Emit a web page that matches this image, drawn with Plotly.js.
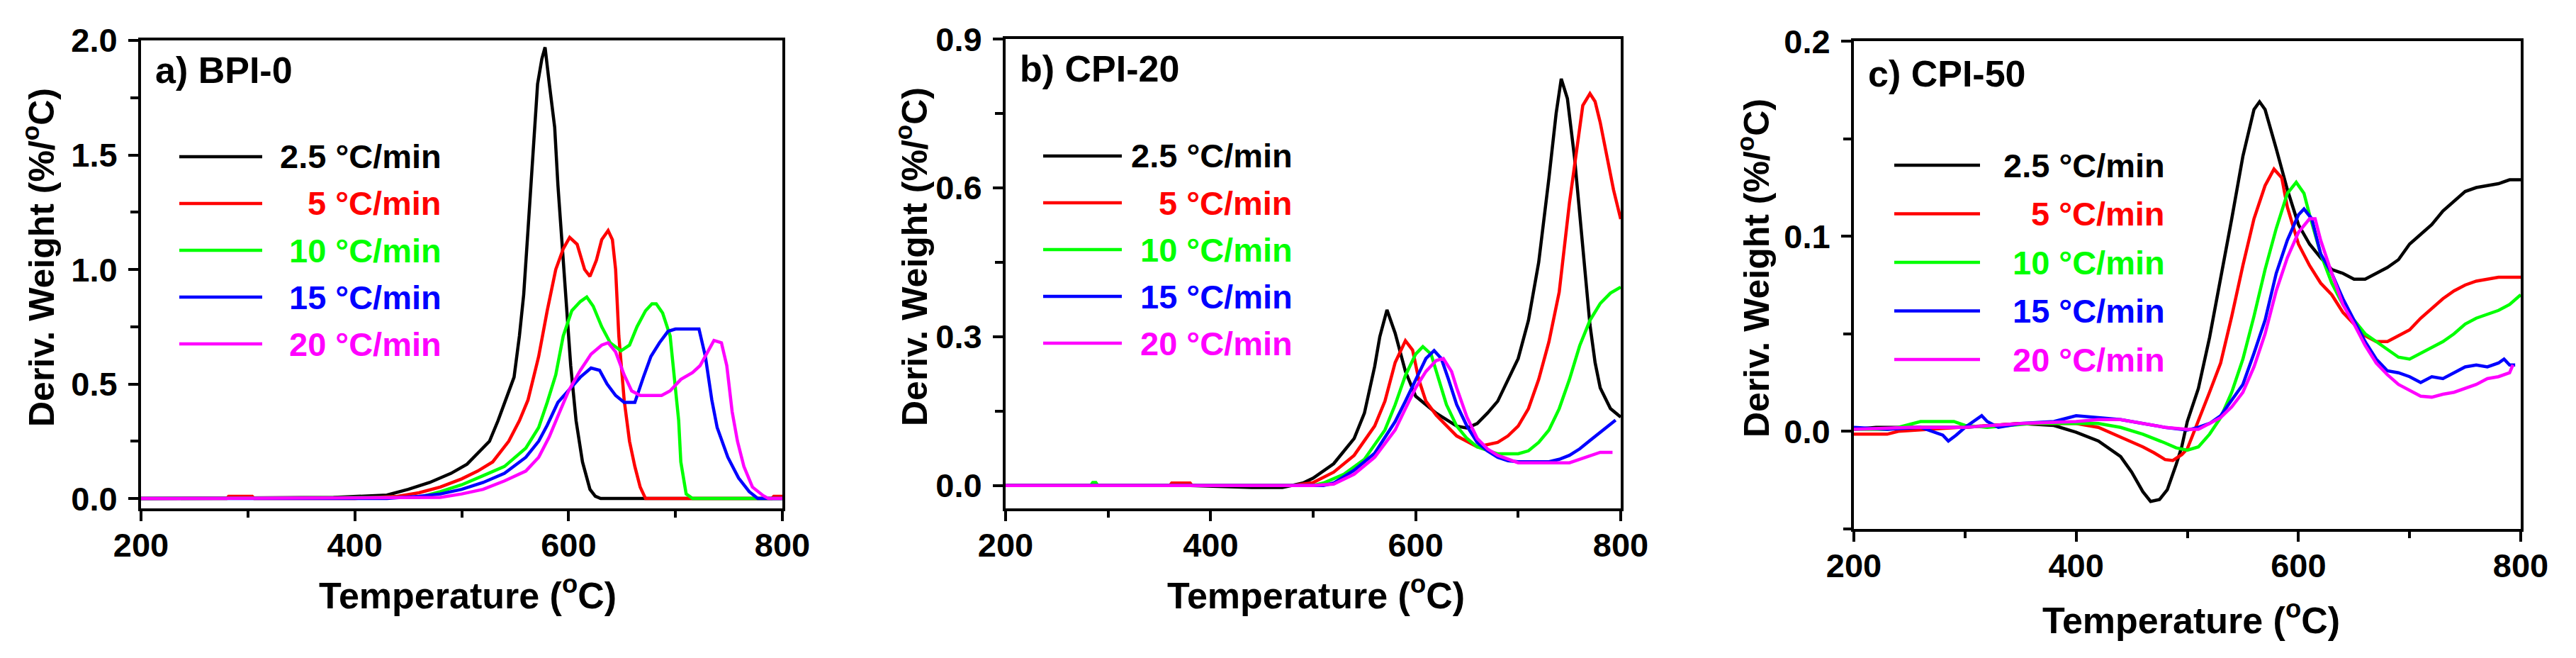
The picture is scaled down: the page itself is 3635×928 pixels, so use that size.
<!DOCTYPE html>
<html>
<head>
<meta charset="utf-8">
<script src="https://cdn.plot.ly/plotly-3.0.1.min.js"></script>
<style>
  html, body { margin: 0; padding: 0; background: #fff; }
  #chart { width: 3635px; height: 928px; }
</style>
</head>
<body>
<div id="chart"></div>
<script>
// heating rates (legend) and line colours
const rateNames = ['2.5 °C/min', '5 °C/min', '10 °C/min', '15 °C/min', '20 °C/min'];
const rateColors = ['#000000', '#ff0000', '#00ff00', '#0000ff', '#ff00ff'];
const panelLabels = ['a) BPI-0', 'b) CPI-20', 'c) CPI-50'];

// ---- a) BPI-0 ----
const bpi0_25_T = [200, 380, 430, 450, 470, 490, 505, 518, 526, 534, 542, 549, 554, 558, 562, 566, 568, 571, 575, 578, 582, 587, 590, 593, 597, 602, 607, 613, 620, 625, 630, 800];
const bpi0_25_W = [0, 0.005, 0.015, 0.04, 0.07, 0.11, 0.15, 0.21, 0.25, 0.34, 0.44, 0.53, 0.71, 0.89, 1.17, 1.44, 1.62, 1.81, 1.92, 1.97, 1.81, 1.62, 1.37, 1.17, 0.89, 0.58, 0.34, 0.16, 0.04, 0.01, 0, 0];
const bpi0_5_T = [200, 280, 282, 304, 306, 400, 440, 460, 480, 500, 515, 529, 544, 554, 562, 572, 580, 588, 595, 601, 608, 615, 620, 626, 631, 637, 641, 644, 647, 652, 657, 662, 667, 672, 790, 792, 800];
const bpi0_5_W = [0, 0, 0.01, 0.01, 0, 0, 0.01, 0.025, 0.05, 0.086, 0.12, 0.16, 0.25, 0.34, 0.43, 0.62, 0.82, 1.0, 1.09, 1.14, 1.11, 1.0, 0.97, 1.04, 1.13, 1.17, 1.13, 1.0, 0.71, 0.43, 0.25, 0.14, 0.05, 0, 0, 0.01, 0.01];
const bpi0_10_T = [200, 460, 480, 500, 520, 540, 560, 572, 580, 588, 595, 603, 611, 617, 623, 631, 639, 649, 657, 664, 672, 678, 682, 688, 695, 699, 703, 705, 710, 716, 800];
const bpi0_10_W = [0, 0.005, 0.03, 0.06, 0.1, 0.14, 0.22, 0.31, 0.42, 0.54, 0.71, 0.82, 0.86, 0.88, 0.84, 0.75, 0.68, 0.645, 0.67, 0.75, 0.82, 0.85, 0.85, 0.81, 0.71, 0.53, 0.34, 0.16, 0.02, 0, 0];
const bpi0_15_T = [200, 430, 460, 480, 500, 520, 540, 560, 572, 580, 590, 600, 611, 621, 629, 636, 644, 652, 662, 670, 677, 685, 693, 700, 722, 728, 734, 739, 749, 759, 769, 777, 800];
const bpi0_15_W = [0, 0, 0.01, 0.02, 0.04, 0.07, 0.11, 0.18, 0.25, 0.32, 0.42, 0.47, 0.53, 0.57, 0.56, 0.5, 0.45, 0.42, 0.42, 0.53, 0.62, 0.68, 0.73, 0.74, 0.74, 0.62, 0.43, 0.31, 0.18, 0.09, 0.03, 0, 0];
const bpi0_20_T = [200, 480, 500, 520, 540, 560, 572, 582, 590, 600, 611, 621, 631, 637, 644, 652, 659, 667, 687, 695, 705, 716, 723, 730, 736, 743, 748, 753, 758, 764, 772, 782, 787, 800];
const bpi0_20_W = [0, 0.005, 0.02, 0.04, 0.077, 0.12, 0.18, 0.27, 0.36, 0.47, 0.56, 0.63, 0.67, 0.68, 0.64, 0.54, 0.47, 0.45, 0.45, 0.47, 0.52, 0.55, 0.58, 0.64, 0.69, 0.68, 0.58, 0.38, 0.25, 0.14, 0.05, 0.013, 0, 0];

// ---- b) CPI-20 ----
const cpi20_25_T = [200, 380, 440, 470, 490, 500, 520, 540, 550, 560, 565, 572, 580, 590, 600, 610, 620, 640, 650, 660, 670, 680, 690, 700, 710, 720, 730, 737, 742, 748, 755, 760, 765, 770, 775, 780, 790, 800];
const cpi20_25_W = [0, 0, -0.004, -0.004, 0.005, 0.015, 0.044, 0.095, 0.146, 0.24, 0.3, 0.354, 0.307, 0.23, 0.18, 0.163, 0.146, 0.12, 0.116, 0.125, 0.146, 0.17, 0.214, 0.256, 0.333, 0.45, 0.62, 0.75, 0.82, 0.78, 0.66, 0.55, 0.435, 0.324, 0.248, 0.197, 0.155, 0.138];
const cpi20_5_T = [200, 360, 362, 380, 382, 480, 500, 520, 540, 560, 570, 580, 590, 597, 603, 610, 620, 640, 660, 680, 690, 700, 710, 720, 730, 740, 750, 757, 763, 770, 775, 780, 787, 793, 800];
const cpi20_5_W = [0, 0, 0.005, 0.005, 0, 0, 0.006, 0.027, 0.061, 0.12, 0.17, 0.248, 0.292, 0.273, 0.214, 0.17, 0.142, 0.1, 0.078, 0.087, 0.1, 0.12, 0.155, 0.214, 0.29, 0.39, 0.57, 0.68, 0.766, 0.79, 0.774, 0.732, 0.655, 0.596, 0.537];
const cpi20_10_T = [200, 283, 285, 288, 290, 500, 510, 530, 550, 570, 580, 590, 600, 607, 615, 620, 630, 640, 650, 660, 680, 700, 710, 720, 730, 740, 750, 760, 770, 780, 790, 800];
const cpi20_10_W = [0, 0, 0.006, 0.006, 0, 0, 0.005, 0.023, 0.053, 0.112, 0.163, 0.222, 0.265, 0.28, 0.265, 0.23, 0.163, 0.12, 0.095, 0.078, 0.064, 0.064, 0.07, 0.087, 0.112, 0.155, 0.214, 0.282, 0.333, 0.367, 0.388, 0.4];
const cpi20_15_T = [200, 510, 520, 540, 560, 580, 590, 600, 610, 618, 625, 632, 640, 650, 660, 670, 680, 690, 700, 730, 740, 750, 760, 770, 780, 790, 795];
const cpi20_15_W = [0, 0, 0.005, 0.031, 0.065, 0.129, 0.17, 0.214, 0.256, 0.272, 0.256, 0.214, 0.163, 0.12, 0.087, 0.07, 0.057, 0.05, 0.048, 0.048, 0.053, 0.061, 0.074, 0.091, 0.108, 0.125, 0.132];
const cpi20_20_T = [200, 500, 520, 540, 560, 580, 590, 600, 610, 620, 627, 635, 640, 650, 660, 670, 680, 690, 700, 750, 760, 770, 780, 792];
const cpi20_20_W = [0, 0, 0.003, 0.023, 0.057, 0.112, 0.155, 0.197, 0.23, 0.252, 0.256, 0.23, 0.197, 0.138, 0.095, 0.074, 0.061, 0.053, 0.046, 0.046, 0.053, 0.06, 0.067, 0.067];

// ---- c) CPI-50 ----
const cpi50_25_T = [200, 220, 260, 300, 350, 380, 400, 420, 440, 450, 460, 467, 475, 482, 490, 495, 500, 510, 520, 530, 540, 550, 560, 565, 570, 580, 590, 600, 610, 620, 630, 640, 650, 660, 670, 680, 690, 700, 710, 720, 730, 740, 750, 760, 770, 780, 790, 800];
const cpi50_25_W = [0.001, 0.002, 0.002, 0.002, 0.004, 0.003, -0.0005, -0.005, -0.013, -0.021, -0.031, -0.036, -0.035, -0.03, -0.017, -0.008, 0.005, 0.022, 0.048, 0.078, 0.109, 0.141, 0.165, 0.169, 0.165, 0.145, 0.124, 0.106, 0.096, 0.089, 0.083, 0.081, 0.078, 0.078, 0.081, 0.084, 0.088, 0.096, 0.101, 0.106, 0.113, 0.118, 0.123, 0.125, 0.126, 0.127, 0.129, 0.129];
const cpi50_5_T = [200, 230, 240, 300, 350, 400, 420, 440, 460, 470, 480, 487, 495, 500, 510, 520, 530, 540, 550, 560, 570, 578, 585, 590, 600, 610, 620, 630, 640, 650, 660, 670, 680, 690, 700, 710, 720, 730, 740, 750, 760, 780, 800];
const cpi50_5_W = [-0.0015, -0.0015, 0, 0.002, 0.004, 0.004, 0.002, -0.003, -0.008, -0.011, -0.0145, -0.015, -0.012, -0.009, 0.005, 0.02, 0.035, 0.059, 0.085, 0.109, 0.126, 0.1345, 0.13, 0.115, 0.096, 0.085, 0.076, 0.07, 0.061, 0.055, 0.049, 0.046, 0.046, 0.049, 0.052, 0.058, 0.063, 0.068, 0.072, 0.075, 0.077, 0.079, 0.079];
const cpi50_10_T = [200, 230, 240, 260, 290, 300, 320, 360, 400, 420, 440, 460, 480, 490, 500, 510, 520, 530, 540, 550, 560, 570, 580, 590, 598, 605, 610, 620, 630, 640, 650, 660, 670, 680, 690, 700, 710, 720, 730, 740, 750, 760, 770, 780, 790, 800];
const cpi50_10_W = [0.001, 0.001, 0.002, 0.005, 0.005, 0.003, 0.002, 0.004, 0.004, 0.004, 0.002, -0.0015, -0.006, -0.0085, -0.0097, -0.008, -0.0015, 0.007, 0.02, 0.037, 0.059, 0.083, 0.104, 0.122, 0.1277, 0.122, 0.111, 0.091, 0.076, 0.065, 0.057, 0.05, 0.046, 0.042, 0.038, 0.037, 0.04, 0.043, 0.046, 0.05, 0.055, 0.058, 0.06, 0.062, 0.065, 0.07];
const cpi50_15_T = [200, 230, 260, 270, 280, 285, 292, 300, 310, 315, 320, 330, 350, 380, 400, 420, 440, 460, 480, 500, 510, 520, 530, 540, 550, 560, 570, 580, 590, 600, 605, 612, 620, 630, 640, 650, 660, 670, 680, 690, 700, 710, 720, 730, 740, 750, 760, 770, 780, 785, 790, 795];
const cpi50_15_W = [0.002, 0.001, 0.002, 0, -0.002, -0.005, -0.002, 0.002, 0.006, 0.008, 0.005, 0.002, 0.004, 0.005, 0.008, 0.007, 0.006, 0.004, 0.002, 0.0006, 0.002, 0.004, 0.008, 0.016, 0.024, 0.04, 0.057, 0.081, 0.098, 0.111, 0.114, 0.109, 0.091, 0.081, 0.068, 0.057, 0.046, 0.037, 0.031, 0.03, 0.028, 0.025, 0.028, 0.027, 0.03, 0.033, 0.034, 0.033, 0.035, 0.037, 0.034, 0.034];
const cpi50_20_T = [200, 250, 300, 350, 400, 420, 440, 460, 480, 500, 510, 520, 530, 540, 550, 560, 570, 580, 590, 600, 610, 615, 620, 630, 640, 650, 660, 670, 680, 690, 700, 710, 720, 730, 740, 750, 760, 770, 780, 790, 793];
const cpi50_20_W = [0.001, 0.002, 0.002, 0.004, 0.005, 0.006, 0.006, 0.004, 0.002, 0.001, 0.001, 0.004, 0.007, 0.0125, 0.02, 0.033, 0.05, 0.072, 0.089, 0.102, 0.109, 0.109, 0.098, 0.081, 0.065, 0.055, 0.044, 0.035, 0.029, 0.024, 0.021, 0.018, 0.0175, 0.019, 0.02, 0.022, 0.024, 0.027, 0.028, 0.03, 0.034];

const seriesByPanel = [
  [[bpi0_25_T, bpi0_25_W], [bpi0_5_T, bpi0_5_W], [bpi0_10_T, bpi0_10_W], [bpi0_15_T, bpi0_15_W], [bpi0_20_T, bpi0_20_W]],
  [[cpi20_25_T, cpi20_25_W], [cpi20_5_T, cpi20_5_W], [cpi20_10_T, cpi20_10_W], [cpi20_15_T, cpi20_15_W], [cpi20_20_T, cpi20_20_W]],
  [[cpi50_25_T, cpi50_25_W], [cpi50_5_T, cpi50_5_W], [cpi50_10_T, cpi50_10_W], [cpi50_15_T, cpi50_15_W], [cpi50_20_T, cpi50_20_W]],
];

// ---- page geometry (pixels) ----
const PAGE_W = 3635;
const PAGE_H = 928;
const FONT = '"Liberation Sans", Arial, sans-serif';

const panels = [
  { left: 199, right: 1104, top: 57, bottom: 717, yRange: [-0.043, 2.0001], dtick: 0.5,
    legendY: 221, legendStep: 66, lineX: [54, 171], textRight: 426, labelY: 99,
    yTitleX: 55, yTitleY: 363, xTitleX: 660, xTitleY: 836 },
  { left: 1419, right: 2287, top: 55, bottom: 717, yRange: [-0.046, 0.9001], dtick: 0.3,
    legendY: 220, legendStep: 66, lineX: [53, 164], textRight: 407, labelY: 97,
    yTitleX: 1287, yTitleY: 362, xTitleX: 1857, xTitleY: 836 },
  { left: 2616, right: 3557, top: 58, bottom: 746, yRange: [-0.0501, 0.2001], dtick: 0.1,
    legendY: 233, legendStep: 68.5, lineX: [57, 178], textRight: 441, labelY: 104,
    yTitleX: 2475, yTitleY: 378, xTitleX: 3092, xTitleY: 871 },
];

const px = x => x / PAGE_W;
const py = y => 1 - y / PAGE_H;

const traces = [];
const shapes = [];
const annotations = [];
const layout = {
  width: PAGE_W,
  height: PAGE_H,
  margin: { l: 0, r: 0, t: 0, b: 0 },
  paper_bgcolor: '#ffffff',
  plot_bgcolor: '#ffffff',
  showlegend: false,
  font: { family: FONT, color: '#000000' },
};

panels.forEach((p, i) => {
  const n = i === 0 ? '' : String(i + 1);
  const axisBase = {
    showline: true, linewidth: 4, linecolor: '#000000', mirror: true,
    ticks: 'outside', ticklen: 14, tickwidth: 4, tickcolor: '#000000',
    showgrid: false, zeroline: false,
    tickfont: { family: FONT, size: 47, weight: 'bold', color: '#000000' },
  };
  layout['xaxis' + n] = Object.assign({}, axisBase, {
    domain: [px(p.left), px(p.right)],
    anchor: 'y' + n,
    range: [200, 800], tick0: 200, dtick: 200,
    ticklabelstandoff: -6,
    minor: { ticks: 'outside', ticklen: 9, tickwidth: 4, tickcolor: '#000000', dtick: 100, showgrid: false },
  });
  layout['yaxis' + n] = Object.assign({}, axisBase, {
    domain: [py(p.bottom), py(p.top)],
    anchor: 'x' + n,
    range: p.yRange, tick0: 0, dtick: p.dtick, tickformat: '.1f',
    ticklabelstandoff: 6,
    minor: { ticks: 'outside', ticklen: 11, tickwidth: 4, tickcolor: '#000000', dtick: p.dtick / 2, showgrid: false },
  });

  seriesByPanel[i].forEach((s, k) => {
    traces.push({
      x: s[0], y: s[1],
      xaxis: 'x' + n, yaxis: 'y' + n,
      type: 'scatter', mode: 'lines',
      name: rateNames[k],
      line: { color: rateColors[k], width: 4.5 },
      hoverinfo: 'skip',
    });

    // legend sample line and right-aligned text
    const ly = p.legendY + p.legendStep * k;
    shapes.push({
      type: 'line', xref: 'paper', yref: 'paper',
      x0: px(p.left + p.lineX[0]), x1: px(p.left + p.lineX[1]),
      y0: py(ly), y1: py(ly),
      line: { color: rateColors[k], width: 4.5 },
    });
    annotations.push({
      xref: 'paper', yref: 'paper',
      x: px(p.left + p.textRight), y: py(ly),
      xanchor: 'right', yanchor: 'middle',
      text: rateNames[k], showarrow: false,
      font: { family: FONT, size: 47, weight: 'bold', color: rateColors[k] },
    });
  });

  annotations.push({
    xref: 'paper', yref: 'paper',
    x: px(p.left + 18), y: py(p.labelY),
    xanchor: 'left', yanchor: 'middle',
    text: panelLabels[i], showarrow: false,
    font: { family: FONT, size: 52, weight: 'bold', color: '#000000' },
  });
  annotations.push({
    xref: 'paper', yref: 'paper',
    x: px(p.yTitleX), y: py(p.yTitleY),
    xanchor: 'center', yanchor: 'middle', textangle: -90,
    text: 'Deriv. Weight (%/<sup>o</sup>C)', showarrow: false,
    font: { family: FONT, size: 50, weight: 'bold', color: '#000000' },
  });
  annotations.push({
    xref: 'paper', yref: 'paper',
    x: px(p.xTitleX), y: py(p.xTitleY),
    xanchor: 'center', yanchor: 'middle',
    text: 'Temperature (<sup>o</sup>C)', showarrow: false,
    font: { family: FONT, size: 52, weight: 'bold', color: '#000000' },
  });
});

layout.shapes = shapes;
layout.annotations = annotations;

Plotly.newPlot('chart', traces, layout, { staticPlot: true, displayModeBar: false });
</script>
</body>
</html>
